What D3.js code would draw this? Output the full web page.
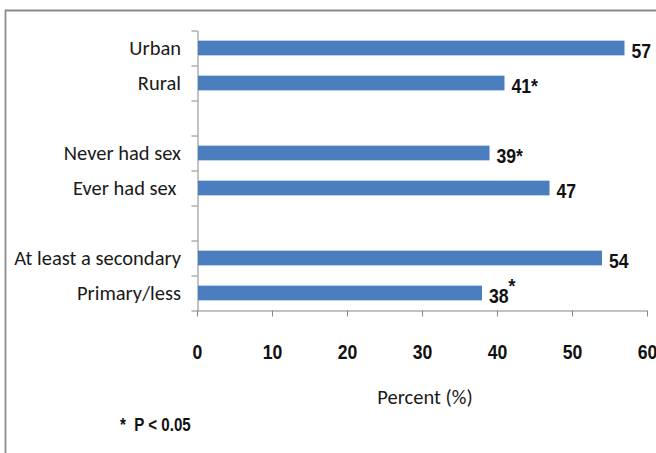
<!DOCTYPE html>
<html>
<head>
<meta charset="utf-8">
<script src="https://cdn.jsdelivr.net/npm/d3@7"></script>
<style>
  body { margin: 0; background: #fff; }
  .cat text { font-family: Carlito, Lato, "Open Sans", sans-serif; font-size: 20.5px; fill: #1a1a1a; white-space: pre; }
  .num, .xlab text { font-family: "Liberation Sans", Arial, sans-serif; font-weight: bold; font-size: 21px; fill: #111; white-space: pre; }
  .title { font-family: Carlito, Lato, "Open Sans", sans-serif; font-size: 20.5px; fill: #1a1a1a; }
</style>
</head>
<body>
<svg width="656" height="453"></svg>
<script>
// données
const categories = ["Urban", "Rural", "", "Never had sex", "Ever had sex ", "", "At least a secondary", "Primary/less"];
const values = [57, 41, null, 39, 47, null, 54, 38];
const stars = ["", "inline", "", "inline", "", "", "", "super"];
const xTicks = [0, 10, 20, 30, 40, 50, 60];

const svg = d3.select("svg");
const axisColor = '#868686';
const barColor = '#4a7ebf';
// police étroite : on resserre horizontalement
const narrow = 'scale(0.84,1)';

// cadre
svg.append('path')
  .attr('d', 'M5.5,453V10.5H656')
  .attr('fill', 'none')
  .attr('stroke', '#8a8a8a')
  .attr('stroke-width', 1.8);

const x = d3.scaleLinear()
  .domain([0, 60])
  .range([197, 647]);

const y = d3.scaleBand()
  .domain(d3.range(categories.length))
  .range([30.5, 310.5])
  .paddingInner(0.58)
  .paddingOuter(0.29);

// séparations entre catégories
const yEdges = d3.scaleLinear()
  .domain([0, categories.length])
  .range([30.5, 310.5]);

//-----------------------axes-----------------------//
const gy = svg.append('g')
  .attr('transform', 'translate(197.5,0)')
  .call(d3.axisLeft(yEdges).ticks(categories.length).tickSizeInner(6).tickSizeOuter(0).tickFormat(''));
gy.selectAll('line, path').attr('stroke', axisColor);

const gx = svg.append('g')
  .attr('class', 'xlab')
  .attr('transform', 'translate(0,310.5)')
  .call(d3.axisBottom(x).tickValues(xTicks).tickSizeInner(6).tickSizeOuter(0).tickPadding(28));
gx.selectAll('line, path').attr('stroke', axisColor);
gx.selectAll('text')
  .attr('font-family', null)
  .attr('font-size', null)
  .attr('transform', narrow);

// libellés des catégories
const gc = svg.append('g')
  .attr('class', 'cat')
  .attr('transform', 'translate(197,0)')
  .call(d3.axisLeft(y).tickSize(0).tickPadding(16).tickFormat(i => categories[i]));
gc.select('.domain').remove();
gc.selectAll('text').attr('font-family', null).attr('font-size', null);

//-----------------------barres-----------------------//
const idx = d3.range(values.length).filter(i => values[i] !== null);

svg.append('g')
  .selectAll('rect')
  .data(idx)
  .join('rect')
  .attr('x', x(0) + 1)
  .attr('y', i => y(i))
  .attr('width', i => x(values[i]) - x(0) - 1)
  .attr('height', y.bandwidth())
  .attr('fill', barColor);

// valeurs
const labels = svg.append('g')
  .selectAll('text')
  .data(idx)
  .join('text')
  .attr('class', 'num')
  .attr('transform', i => `translate(${x(values[i]) + 7},${y(i) + y.bandwidth() / 2 + 9.5}) ${narrow}`)
  .text(i => values[i]);

labels.filter(i => stars[i] !== '')
  .append('tspan')
  .attr('dy', i => stars[i] === 'super' ? -10 : 0)
  .text('*');

//-----------------------titres-----------------------//
svg.append('text')
  .attr('class', 'title')
  .attr('x', 425)
  .attr('y', 404)
  .attr('text-anchor', 'middle')
  .text('Percent (%)');

svg.append('text')
  .attr('class', 'num')
  .style('font-size', '18px')
  .attr('transform', `translate(120,431) ${narrow}`)
  .text('*  P < 0.05');
</script>
</body>
</html>
